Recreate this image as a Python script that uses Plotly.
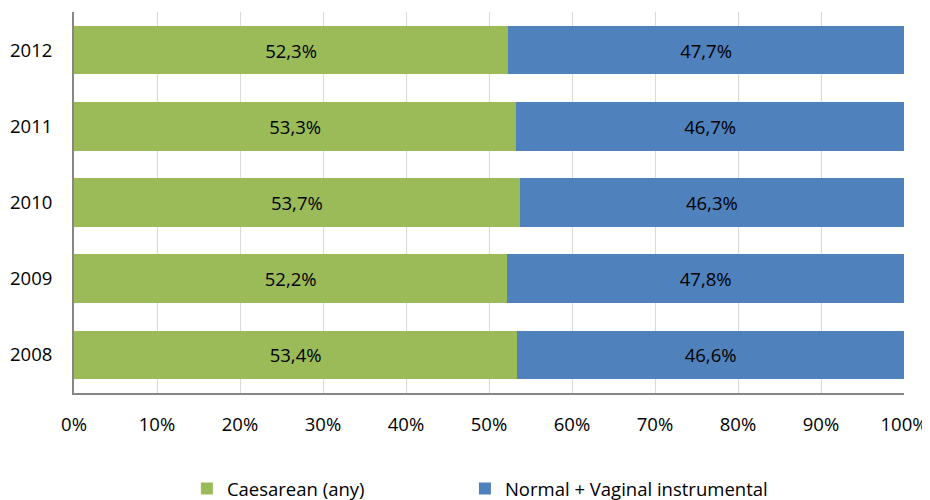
import plotly.graph_objects as go

years = ["2008", "2009", "2010", "2011", "2012"]
caesarean = [53.4, 52.2, 53.7, 53.3, 52.3]
normal = [46.6, 47.8, 46.3, 46.7, 47.7]
tick_vals = [0, 10, 20, 30, 40, 50, 60, 70, 80, 90, 100]
tick_text = [f"{v}%" for v in tick_vals]

def fmt(v):
    return f"{v:.1f}%".replace(".", ",")

font = "'Open Sans', sans-serif"
fs = 18.5

fig = go.Figure()
fig.add_trace(go.Bar(
    y=years, x=caesarean, orientation="h", name="Caesarean (any)",
    marker=dict(color="#9BBB59", line=dict(width=0)),
    text=[fmt(v) for v in caesarean], textposition="inside", insidetextanchor="middle",
    textfont=dict(color="#000000", size=fs, family=font),
    legend="legend",
))
fig.add_trace(go.Bar(
    y=years, x=normal, orientation="h", name="Normal + Vaginal instrumental",
    marker=dict(color="#4F81BD", line=dict(width=0)),
    text=[fmt(v) for v in normal], textposition="inside", insidetextanchor="middle",
    textfont=dict(color="#000000", size=fs, family=font),
    legend="legend2",
))

leg_common = dict(orientation="h", y=-0.202, xanchor="left", yanchor="top",
                  font=dict(size=fs), bgcolor="rgba(0,0,0,0)", itemwidth=30)

# page body has an 8px margin; figure sized/offset to compensate
fig.update_layout(
    barmode="stack",
    bargap=0.36,
    width=922, height=492,
    margin=dict(l=66, r=26, t=4, b=107, autoexpand=False),
    paper_bgcolor="white", plot_bgcolor="white",
    font=dict(family=font, size=fs, color="#000000"),
    showlegend=True,
    legend=dict(x=0.136, **leg_common),
    legend2=dict(x=0.471, **leg_common),
    uniformtext=dict(mode="show", minsize=fs),
)
fig.update_xaxes(range=[0, 100], tickvals=tick_vals, ticktext=tick_text,
                 showgrid=True, gridcolor="#D9D9D9", gridwidth=1,
                 showline=True, linecolor="#868686", linewidth=2,
                 ticks="", ticklabelstandoff=14, zeroline=False, automargin=False)
fig.update_yaxes(showline=True, linecolor="#868686", linewidth=2, ticks="",
                 ticklabelstandoff=16, categoryorder="array", categoryarray=years,
                 automargin=False)

fig.write_html("out.html")
